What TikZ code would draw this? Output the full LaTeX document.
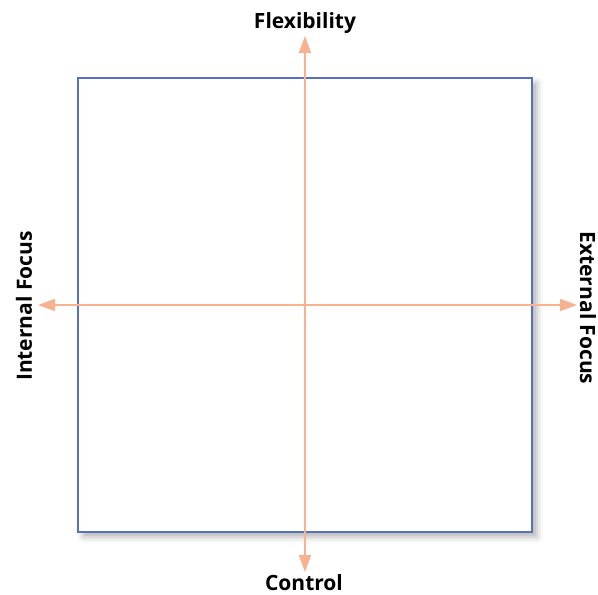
\documentclass[tikz,border=0pt]{standalone}
\usepackage{fontspec}
\setmainfont{Open Sans}
\usetikzlibrary{arrows.meta}
\usetikzlibrary{shadows.blur}
\definecolor{framecol}{RGB}{88,112,194}
\definecolor{axiscol}{RGB}{248,178,146}
\tikzset{
	framestyle/.style={draw=framecol,line width=2pt,fill=white,blur shadow={shadow xshift=5pt,shadow yshift=-5pt,shadow blur radius=6pt,shadow opacity=30}},
	axisstyle/.style={draw=axiscol,line width=2pt,{Triangle[width=12pt,length=17pt]}-{Triangle[width=12pt,length=17pt]}},
	labelstyle/.style={font=\fontsize{21}{24}\selectfont\bfseries,text=black,inner sep=0pt}
}
\begin{document}
\begin{tikzpicture}[x=1pt,y=-1pt]
	\useasboundingbox (0,0) rectangle (598,595);
	\node[framestyle,minimum size=454pt,inner sep=0pt] (box) at (305,305) {};
	\coordinate (top) at (305,36);
	\coordinate (bottom) at (305,572);
	\coordinate (left) at (38,305);
	\coordinate (right) at (577,305);
	\draw[axisstyle] (bottom)--(top);
	\draw[axisstyle] (left)--(right);
	\node[labelstyle] (flex) at (305,23) {Flexibility};
	\node[labelstyle] (ctrl) at (304,583) {Control};
	\node[labelstyle,rotate=90] (intf) at (24,306) {Internal Focus};
	\node[labelstyle,rotate=-90] (extf) at (588,308) {External Focus};
\end{tikzpicture}
\end{document}
